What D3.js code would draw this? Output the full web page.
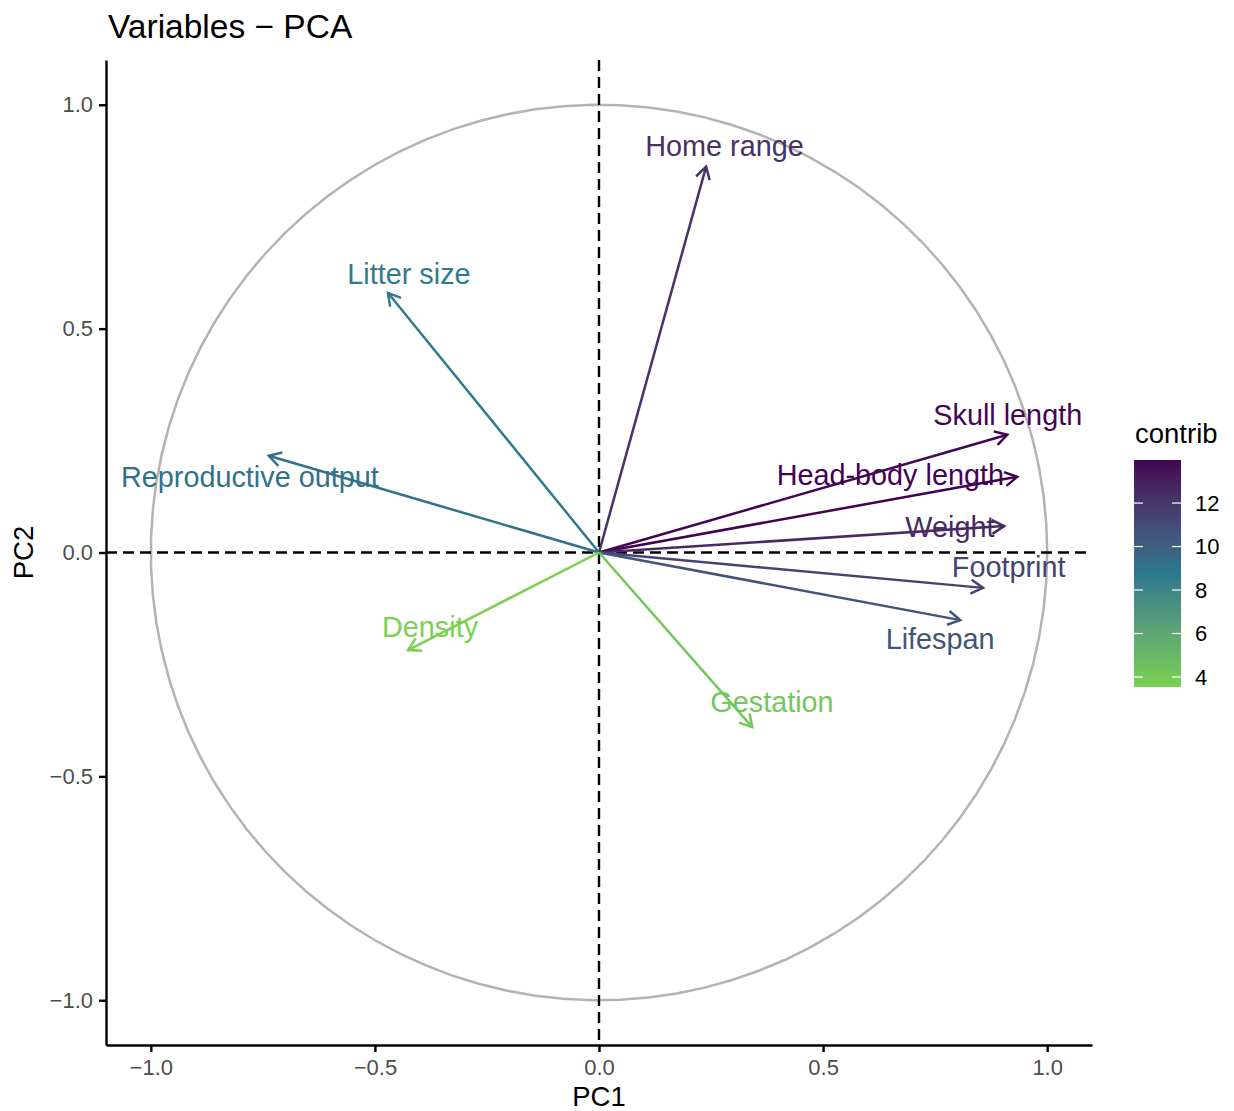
<!DOCTYPE html>
<html>
<head>
<meta charset="utf-8">
<script src="https://cdn.jsdelivr.net/npm/d3@7"></script>
<style>
  body { margin: 0; background: #fff; }
  svg { display: block; font-family: "Liberation Sans", Arial, sans-serif; }
</style>
</head>
<body>
<svg id="chart" width="1234" height="1111"></svg>
<script>
// PCA variable loadings on the first two components
const variables = ["Home range", "Litter size", "Reproductive output", "Skull length",
  "Head-body length", "Weight", "Footprint", "Lifespan", "Density", "Gestation"];
const pc1 = [0.239, -0.471, -0.737, 0.911, 0.933, 0.904, 0.857, 0.806, -0.426, 0.342];
const pc2 = [0.862, 0.580, 0.216, 0.263, 0.169, 0.059, -0.079, -0.151, -0.218, -0.390];
// contribution (%) of each variable to PC1-PC2
const contrib = [12.3, 8.6, 9.1, 13.9, 13.98, 12.6, 11.4, 10.5, 3.54, 4.1];
// repelled label anchors (data units)
const labelX = [0.280, -0.424, -0.779, 0.912, 0.650, 0.783, 0.914, 0.761, -0.377, 0.386];
const labelY = [0.909, 0.622, 0.169, 0.307, 0.173, 0.057, -0.032, -0.193, -0.166, -0.334];

const axisTicks = [-1.0, -0.5, 0.0, 0.5, 1.0];
const legendTicks = [4, 6, 8, 10, 12];
const gradientCols = ["#7AD151", "#2A788E", "#440154"];

const svg = d3.select("#chart");
const panel = { left: 106, right: 1092, top: 60, bottom: 1045 };

const x = d3.scaleLinear().domain([-1.1, 1.1]).range([panel.left, panel.right]);
const y = d3.scaleLinear().domain([-1.1, 1.1]).range([panel.bottom, panel.top]);

const cExtent = d3.extent(contrib);
const cMid = (cExtent[0] + cExtent[1]) / 2;
const color = d3.scaleLinear()
  .domain([cExtent[0], cMid, cExtent[1]])
  .range(gradientCols)
  .interpolate(d3.interpolateLab);

const fmt = v => d3.format(".1f")(v).replace("-", "\u2212");

// correlation circle
const circlePts = d3.range(100).map(i => {
  const t = 2 * Math.PI * i / 99;
  return [Math.cos(t), Math.sin(t)];
});
svg.append("path")
  .attr("d", d3.line().x(d => x(d[0])).y(d => y(d[1]))(circlePts))
  .attr("fill", "none")
  .attr("stroke", "#B3B3B3")
  .attr("stroke-width", 2.5);

// reference lines through the origin
svg.append("line")
  .attr("x1", x(0)).attr("x2", x(0)).attr("y1", panel.top).attr("y2", panel.bottom)
  .attr("stroke", "#000").attr("stroke-width", 2.4).attr("stroke-dasharray", "11,6");
svg.append("line")
  .attr("x1", panel.left).attr("x2", panel.right).attr("y1", y(0)).attr("y2", y(0))
  .attr("stroke", "#000").attr("stroke-width", 2.4).attr("stroke-dasharray", "11,6");

// arrows
const headLen = 14, headAng = Math.PI / 6;
const arrows = svg.append("g");
variables.forEach((v, i) => {
  const x0 = x(0), y0 = y(0), x1 = x(pc1[i]), y1 = y(pc2[i]);
  const col = color(contrib[i]);
  arrows.append("line")
    .attr("x1", x0).attr("y1", y0).attr("x2", x1).attr("y2", y1)
    .attr("stroke", col).attr("stroke-width", 2.5);
  const a = Math.atan2(y1 - y0, x1 - x0);
  const p1 = [x1 - headLen * Math.cos(a - headAng), y1 - headLen * Math.sin(a - headAng)];
  const p2 = [x1 - headLen * Math.cos(a + headAng), y1 - headLen * Math.sin(a + headAng)];
  arrows.append("path")
    .attr("d", `M${p1[0]},${p1[1]}L${x1},${y1}L${p2[0]},${p2[1]}`)
    .attr("fill", "none").attr("stroke", col).attr("stroke-width", 2.5)
    .attr("stroke-linejoin", "miter");
});

// variable labels
svg.append("g").selectAll("text").data(variables).join("text")
  .attr("x", (d, i) => x(labelX[i]))
  .attr("y", (d, i) => y(labelY[i]))
  .attr("dy", "0.35em")
  .attr("text-anchor", "middle")
  .attr("font-size", 28.8)
  .attr("fill", (d, i) => color(contrib[i]))
  .text(d => d);

// axes
const xAxis = svg.append("g").attr("transform", `translate(0,${panel.bottom})`)
  .call(d3.axisBottom(x).tickValues(axisTicks).tickFormat(fmt)
    .tickSizeInner(7).tickSizeOuter(0).tickPadding(6));
const yAxis = svg.append("g").attr("transform", `translate(${panel.left},0)`)
  .call(d3.axisLeft(y).tickValues(axisTicks).tickFormat(fmt)
    .tickSizeInner(7).tickSizeOuter(0).tickPadding(6));
[xAxis, yAxis].forEach(g => {
  g.select(".domain").attr("stroke", "#000").attr("stroke-width", 2.4);
  g.selectAll(".tick line").attr("stroke", "#000").attr("stroke-width", 2.4);
  g.selectAll(".tick text").attr("fill", "#4D4D4D").attr("font-size", 22)
    .attr("font-family", "Liberation Sans, Arial, sans-serif");
});
xAxis.selectAll(".tick text").attr("dy", "0.75em");

// titles
svg.append("text").attr("x", 108).attr("y", 38).attr("font-size", 33.5).text("Variables \u2212 PCA");
svg.append("text").attr("x", x(0)).attr("y", 1106).attr("text-anchor", "middle")
  .attr("font-size", 27.5).text("PC1");
svg.append("text").attr("transform", `translate(33,${y(0)}) rotate(-90)`)
  .attr("text-anchor", "middle").attr("font-size", 27.5).text("PC2");

// colour bar legend
const bar = { x: 1134, w: 47, top: 460, bottom: 687 };
const barY = d3.scaleLinear().domain(cExtent).range([bar.bottom, bar.top]);
const defs = svg.append("defs");
const grad = defs.append("linearGradient").attr("id", "contribGrad")
  .attr("x1", 0).attr("y1", 1).attr("x2", 0).attr("y2", 0);
d3.range(0, 1.0001, 0.05).forEach(t => {
  grad.append("stop").attr("offset", t)
    .attr("stop-color", color(cExtent[0] + t * (cExtent[1] - cExtent[0])));
});
svg.append("text").attr("x", 1135).attr("y", 443).attr("font-size", 27.5).text("contrib");
svg.append("rect").attr("x", bar.x).attr("y", bar.top).attr("width", bar.w)
  .attr("height", bar.bottom - bar.top).attr("fill", "url(#contribGrad)");
const lg = svg.append("g");
legendTicks.forEach(t => {
  const ty = barY(t);
  lg.append("line").attr("x1", bar.x).attr("x2", bar.x + 9).attr("y1", ty).attr("y2", ty)
    .attr("stroke", "#fff").attr("stroke-width", 1.2);
  lg.append("line").attr("x1", bar.x + bar.w - 9).attr("x2", bar.x + bar.w).attr("y1", ty).attr("y2", ty)
    .attr("stroke", "#fff").attr("stroke-width", 1.2);
  lg.append("text").attr("x", 1195).attr("y", ty).attr("dy", "0.35em")
    .attr("font-size", 22).attr("fill", "#000").text(t);
});
</script>
</body>
</html>
